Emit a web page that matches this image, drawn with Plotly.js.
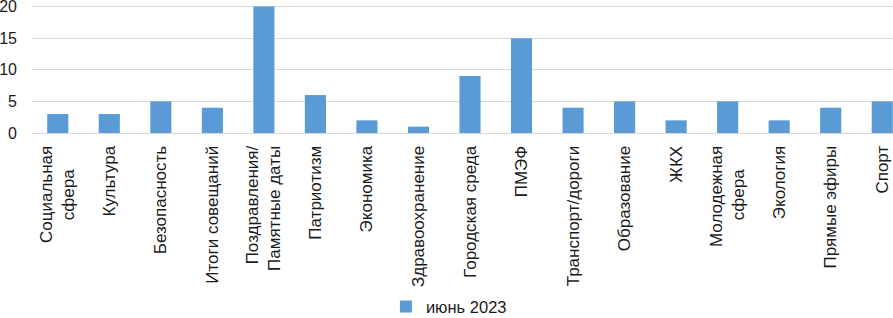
<!DOCTYPE html>
<html>
<head>
<meta charset="utf-8">
<script src="https://cdn.plot.ly/plotly-3.0.1.min.js"></script>
<style>
html,body{margin:0;padding:0;overflow:hidden;background:#fff;}
#chart{width:908px;height:318px;}
</style>
</head>
<body>
<div id="chart"></div>
<script>
const categories = ["Социальная сфера","Культура","Безопасность","Итоги совещаний","Поздравления/ Памятные даты","Патриотизм","Экономика","Здравоохранение","Городская среда","ПМЭФ","Транспорт/дороги","Образование","ЖКХ","Молодежная сфера","Экология","Прямые эфиры","Спорт"];
const tickLabels = ["Социальная<br>сфера\u00A0\u00A0\u00A0\u00A0\u00A0","Культура","Безопасность","Итоги совещаний","Поздравления/<br>Памятные даты","Патриотизм","Экономика","Здравоохранение","Городская среда","ПМЭФ","Транспорт/дороги","Образование","ЖКХ","Молодежная<br>сфера\u00A0\u00A0\u00A0\u00A0\u00A0","Экология","Прямые эфиры","Спорт"];
const seriesName = "июнь 2023";
const values = [3,3,5,4,20,6,2,1,9,15,4,5,2,5,2,4,5];
const yTicks = [0,5,10,15,20];

const font = "Arial, 'Liberation Sans', sans-serif";
const txt = "#1a1a1a";
Plotly.newPlot("chart", [{
  type: "bar",
  x: categories,
  y: values,
  name: seriesName,
  marker: {color: "#5b9bd5"},
  showlegend: true
}], {
  width: 908, height: 318,
  margin: {l: 32, r: 0, t: 3.5, b: 185, autoexpand: false},
  paper_bgcolor: "#fff", plot_bgcolor: "#fff",
  bargap: 0.59,
  font: {family: font, size: 16, color: txt},
  xaxis: {
    type: "category",
    tickmode: "array", tickvals: categories, ticktext: tickLabels,
    tickangle: -90,
    tickfont: {family: font, size: 17, color: txt},
    showline: true, linecolor: "#d9d9d9", linewidth: 1,
    showgrid: false, ticks: "", ticklabelstandoff: 5
  },
  yaxis: {
    range: [0, 20.4], tickmode: "array", tickvals: yTicks,
    tickfont: {family: font, size: 16, color: txt},
    showgrid: true, gridcolor: "#d9d9d9", gridwidth: 1,
    zeroline: false, showline: false, ticks: "", ticklabelstandoff: 14,
    ticklabeloverflow: "allow"
  },
  legend: {
    orientation: "h", xref: "container", yref: "container",
    x: 0.425, xanchor: "left", y: 0.035, yanchor: "middle",
    font: {family: font, size: 16.5, color: txt}
  },
  showlegend: true
}, {displayModeBar: false, staticPlot: true});
</script>
</body>
</html>
